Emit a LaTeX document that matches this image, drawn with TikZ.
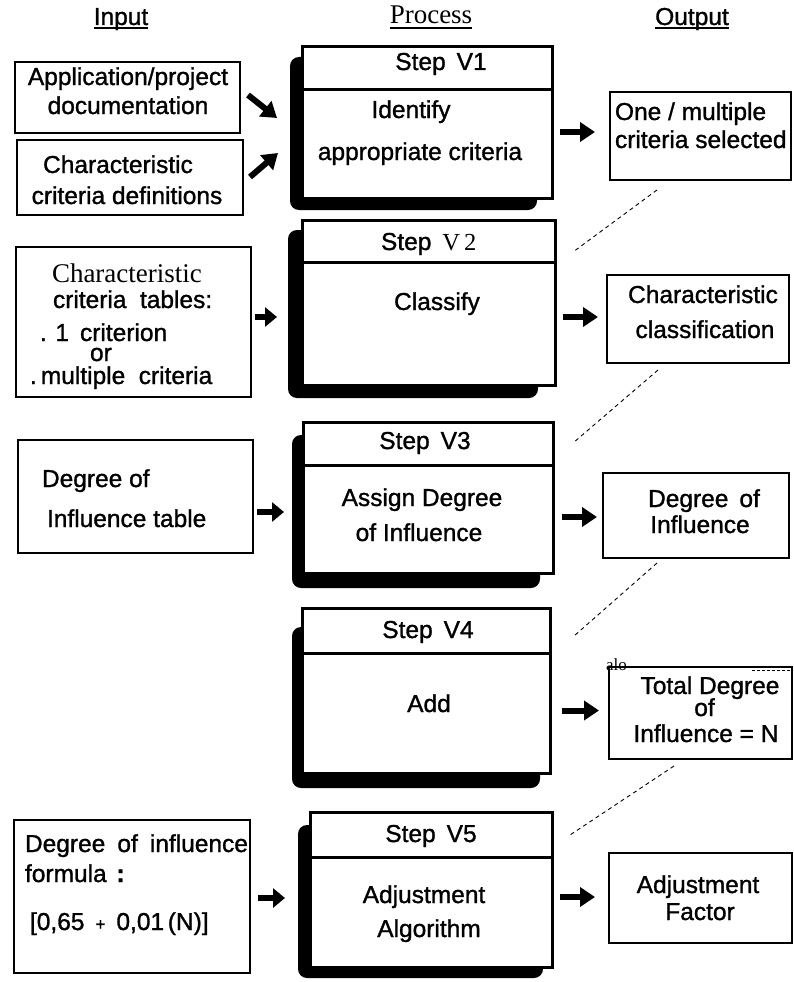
\documentclass[tikz,border=0pt]{standalone}
\usepackage{fontspec}
\setmainfont{Liberation Sans}[FakeBold=1.2]
\newfontfamily\romanface{Liberation Serif}
\newfontfamily\bodyface{Liberation Sans}[FakeBold=1.2]
\usetikzlibrary{arrows.meta,calc}
\begin{document}
\begin{tikzpicture}[x=1pt,y=-1pt,
  every node/.style={inner sep=0pt, outer sep=0pt},
  txt/.style={font=\bodyface\fontsize{24.5}{28}\selectfont, anchor=base},
  txtl/.style={txt, anchor=base west},
  rmtxt/.style={font=\romanface\fontsize{27}{30}\selectfont, anchor=base},
  iobox/.style={draw, line width=2.8pt, anchor=north west},
  stepbox/.style={draw, fill=white, line width=3pt, anchor=north west},
  shadowbox/.style={fill=black, rounded corners=9pt, anchor=north west},
  fatarrow/.style={line width=6pt, -{Triangle[length=15pt,width=19pt]}},
  shortarrow/.style={line width=6pt, -{Triangle[length=12pt,width=19pt]}},
  link/.style={line width=0.9pt, dash pattern=on 4pt off 3.5pt},
  rule/.style={line width=3pt},
  headrule/.style={line width=1.3pt}
]
\useasboundingbox (0,0) rectangle (794,982);

% column headings
\node[txt] (hin) at (121,25) {Input};
\node[rmtxt] (hproc) at (431,24) {Process};
\node[txt] (hout) at (692,25) {Output};
\draw[headrule] ($(hin.base west)+(0,3)$) -- ($(hin.base east)+(0,3)$);
\draw[headrule] ($(hproc.base west)+(0,4)$) -- ($(hproc.base east)+(0,4)$);
\draw[headrule] ($(hout.base west)+(0,3)$) -- ($(hout.base east)+(0,3)$);

% input boxes
\node[iobox, minimum width=225pt, minimum height=71pt] (inA) at (15,62) {};
\node[iobox, minimum width=226pt, minimum height=75pt] (inB) at (17,140) {};
\node[iobox, minimum width=235pt, minimum height=150pt] (inC) at (16,247) {};
\node[iobox, minimum width=235pt, minimum height=113pt] (inD) at (18,440) {};
\node[iobox, minimum width=236pt, minimum height=153pt] (inE) at (14,820) {};

\node[txt] (ta1) at (128,85) {Application/project};
\node[txt] (ta2) at (128,114) {documentation};
\node[txt] (tb1) at (118,173) {Characteristic};
\node[txt] (tb2) at (127,204) {criteria definitions};
\node[rmtxt, anchor=base west] (tc1) at (52,282) {Characteristic};
\node[txtl] (tc2) at (53,308) {criteria\hspace{0.55em}tables:};
\node[txtl] (tc3) at (40,341) {.\hspace{0.35em}1\hspace{0.45em}criterion};
\node[txtl] (tc4) at (90,361) {or};
\node[txtl] (tc5) at (30,384) {.\,multiple\hspace{0.55em}criteria};
\node[txtl] (td1) at (42,487) {Degree of};
\node[txtl] (td2) at (47,527) {Influence table};
\node[txtl] (te1) at (25,852) {\makebox[223pt][s]{Degree of influence}};
\node[txtl] (te2) at (25,882) {formula\hspace{0.4em}\textbf{:}};
\node[txtl] (te3) at (30,930) {[0,65\hspace{0.45em}{\fontsize{17}{20}\selectfont +}\hspace{0.45em}0,01\hspace{0.15em}(N)]};

% process steps: shadow, box, heading rule
\node[shadowbox, minimum width=247pt, minimum height=153pt] (v1s) at (290,57) {};
\node[stepbox, minimum width=250pt, minimum height=151pt] (v1) at (302,47) {};
\draw[rule] ($(v1.north west)+(0,42)$) -- ($(v1.north east)+(0,42)$);

\node[shadowbox, minimum width=250pt, minimum height=168pt] (v2s) at (288,230) {};
\node[stepbox, minimum width=253pt, minimum height=165pt] (v2) at (302,220) {};
\draw[rule] ($(v2.north west)+(0,42)$) -- ($(v2.north east)+(0,42)$);

\node[shadowbox, minimum width=248pt, minimum height=153pt] (v3s) at (292,435) {};
\node[stepbox, minimum width=250pt, minimum height=151pt] (v3) at (303,422) {};
\draw[rule] ($(v3.north west)+(0,43)$) -- ($(v3.north east)+(0,43)$);

\node[shadowbox, minimum width=248pt, minimum height=161pt] (v4s) at (292,627) {};
\node[stepbox, minimum width=248pt, minimum height=165pt] (v4) at (302,608) {};
\draw[rule] ($(v4.north west)+(0,45)$) -- ($(v4.north east)+(0,45)$);

\node[shadowbox, minimum width=245pt, minimum height=153pt] (v5s) at (298,825) {};
\node[stepbox, minimum width=242pt, minimum height=155pt] (v5) at (310,812) {};
\draw[rule] ($(v5.north west)+(0,45)$) -- ($(v5.north east)+(0,45)$);

\node[txt] (s1h) at (441,70) {Step\hspace{0.45em}V1};
\node[txt] (s1a) at (411,118) {Identify};
\node[txt] (s1b) at (420,160) {appropriate criteria};
\node[txtl] (s2h) at (381,250) {Step\hspace{0.45em}{\romanface V\,2}};
\node[txt] (s2a) at (437,310) {Classify};
\node[txt] (s3h) at (425,449) {Step\hspace{0.45em}V3};
\node[txt] (s3a) at (422,506) {Assign Degree};
\node[txt] (s3b) at (419,541) {of Influence};
\node[txt] (s4h) at (428,638) {Step\hspace{0.45em}V4};
\node[txt] (s4a) at (429,712) {Add};
\node[txt] (s5h) at (431,842) {Step\hspace{0.45em}V5};
\node[txt] (s5a) at (424,903) {Adjustment};
\node[txt] (s5b) at (429,937) {Algorithm};

% output boxes
\node[iobox, minimum width=181pt, minimum height=88pt] (o1) at (610,92) {};
\node[iobox, minimum width=182pt, minimum height=88pt] (o2) at (607,275) {};
\node[iobox, minimum width=186pt, minimum height=85pt] (o3) at (603,473) {};
\node[iobox, minimum width=183pt, minimum height=92pt] (o4) at (609,667) {};
\node[iobox, minimum width=183pt, minimum height=90pt] (o5) at (609,853) {};

\node[txtl] (r1a) at (615,120) {One / multiple};
\node[txtl] (r1b) at (615,148) {criteria selected};
\node[txt] (r2a) at (703,303) {Characteristic};
\node[txt] (r2b) at (705,338) {classification};
\node[txt] (r3a) at (704,507) {Degree\hspace{0.45em}of};
\node[txt] (r3b) at (700,533) {Influence};
\node[txt] (r4a) at (710,694) {Total Degree};
\node[txt] (r4b) at (704.5,716) {of};
\node[txt] (r4c) at (706,742) {Influence = N};
\node[txt] (r5a) at (698,893) {Adjustment};
\node[txt] (r5b) at (700,920) {Factor};
\node[anchor=base west, font=\romanface\fontsize{17}{17}\selectfont] (stamp) at (606,670) {alo};
\coordinate (tickA) at (752,670);
\coordinate (tickB) at (790,670);
\draw[line width=0.7pt, dash pattern=on 3pt off 2pt] (tickA) -- (tickB);

% flow arrows
\draw[fatarrow] ($(inA.east)+(8,-2.5)$) -- ($(v1.west)+(-25,-4.5)$);
\draw[fatarrow] ($(inB.east)+(7,-0.5)$) -- ($(v1.west)+(-24,30.5)$);
\draw[shortarrow] ($(inC.east)+(4,-5)$) -- ($(v2.west |- inC.east)+(-25,-5)$);
\draw[shortarrow] ($(inD.east)+(4,15.5)$) -- ($(v3.west |- inD.east)+(-19,15.5)$);
\draw[shortarrow] ($(inE.east)+(8,1.5)$) -- ($(v5.west |- inE.east)+(-25,1.5)$);
\draw[fatarrow] ($(v1.east)+(8,9.5)$) -- ($(o1.west |- v1.east)+(-15,9.5)$);
\draw[fatarrow] ($(v2.east)+(8,14.5)$) -- ($(o2.west |- v2.east)+(-9,14.5)$);
\draw[fatarrow] ($(v3.east)+(9,19.5)$) -- ($(o3.west |- v3.east)+(-6,19.5)$);
\draw[fatarrow] ($(v4.east)+(12,20)$) -- ($(o4.west |- v4.east)+(-10,20)$);
\draw[fatarrow] ($(v5.east)+(8,7.5)$) -- ($(o5.west |- v5.east)+(-14,7.5)$);

% dashed links from each result to the next step
\draw[link] ($(o1.south)+(-43.5,10)$) -- ($(v2.north east)+(18,32)$);
\draw[link] ($(o2.south)+(-40,7)$) -- ($(v3.north east)+(20,21)$);
\draw[link] ($(o3.south)+(-39,5)$) -- ($(v4.north east)+(24,28)$);
\draw[link] ($(o4.south)+(-26.5,7)$) -- ($(v5.north east)+(18,23)$);
\end{tikzpicture}
\end{document}
